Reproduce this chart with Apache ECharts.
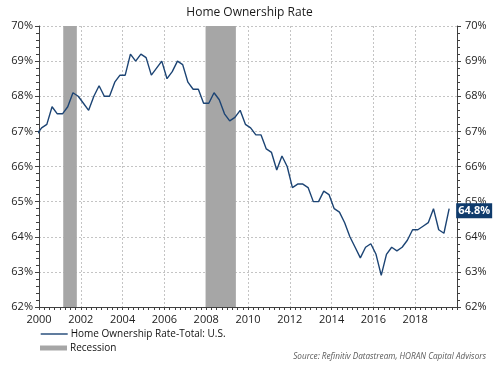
<!DOCTYPE html>
<html><head><meta charset="utf-8">
<script src="https://cdn.jsdelivr.net/npm/echarts@6/dist/echarts.min.js"></script>
<style>html,body{margin:0;padding:0;background:#fff}#c{width:499px;height:371px}</style>
</head><body><div id="c"></div>
<script>
// Quarterly US home ownership rate (%), plotted at mid-quarter
const quarters = [
  '1999Q4',
  '2000Q1','2000Q2','2000Q3','2000Q4',
  '2001Q1','2001Q2','2001Q3','2001Q4',
  '2002Q1','2002Q2','2002Q3','2002Q4',
  '2003Q1','2003Q2','2003Q3','2003Q4',
  '2004Q1','2004Q2','2004Q3','2004Q4',
  '2005Q1','2005Q2','2005Q3','2005Q4',
  '2006Q1','2006Q2','2006Q3','2006Q4',
  '2007Q1','2007Q2','2007Q3','2007Q4',
  '2008Q1','2008Q2','2008Q3','2008Q4',
  '2009Q1','2009Q2','2009Q3','2009Q4',
  '2010Q1','2010Q2','2010Q3','2010Q4',
  '2011Q1','2011Q2','2011Q3','2011Q4',
  '2012Q1','2012Q2','2012Q3','2012Q4',
  '2013Q1','2013Q2','2013Q3','2013Q4',
  '2014Q1','2014Q2','2014Q3','2014Q4',
  '2015Q1','2015Q2','2015Q3','2015Q4',
  '2016Q1','2016Q2','2016Q3','2016Q4',
  '2017Q1','2017Q2','2017Q3','2017Q4',
  '2018Q1','2018Q2','2018Q3','2018Q4',
  '2019Q1','2019Q2','2019Q3'
];
const ownershipRate = [
  66.9,
  67.1, 67.2, 67.7, 67.5,
  67.5, 67.7, 68.1, 68.0,
  67.8, 67.6, 68.0, 68.3,
  68.0, 68.0, 68.4, 68.6,
  68.6, 69.2, 69.0, 69.2,
  69.1, 68.6, 68.8, 69.0,
  68.5, 68.7, 69.0, 68.9,
  68.4, 68.2, 68.2, 67.8,
  67.8, 68.1, 67.9, 67.5,
  67.3, 67.4, 67.6, 67.2,
  67.1, 66.9, 66.9, 66.5,
  66.4, 65.9, 66.3, 66.0,
  65.4, 65.5, 65.5, 65.4,
  65.0, 65.0, 65.3, 65.2,
  64.8, 64.7, 64.4, 64.0,
  63.7, 63.4, 63.7, 63.8,
  63.5, 62.9, 63.5, 63.7,
  63.6, 63.7, 63.9, 64.2,
  64.2, 64.3, 64.4, 64.8,
  64.2, 64.1, 64.8
];
// Recession periods (decimal years)
const recessions = [[2001.16, 2001.81], [2007.97, 2009.42]];
const lineName = 'Home Ownership Rate-Total: U.S.';
const recessionName = 'Recession';
const titleText = 'Home Ownership Rate';
const sourceText = 'Source: Refinitiv Datastream, HORAN Capital Advisors';

function qToYear(q) {
  const y = parseInt(q.slice(0, 4), 10);
  const n = parseInt(q.slice(5), 10);
  return y + (n - 1) / 4 + 0.125;
}
const lineData = quarters.map((q, i) => [qToYear(q), ownershipRate[i]]);
const lastPoint = lineData[lineData.length - 1];

const FONT = '"Open Sans", "DejaVu Sans", sans-serif';
const chart = echarts.init(document.getElementById('c'), null, {renderer: 'canvas'});

const yAxisBase = {
  type: 'value', min: 62, max: 70, interval: 1,
  axisLine: {show: true, lineStyle: {color: '#404040', width: 1}},
  axisTick: {show: true, length: 4, lineStyle: {color: '#404040'}},
  minorTick: {show: true, splitNumber: 5, length: 3, lineStyle: {color: '#404040'}},
  axisLabel: {color: '#222', fontSize: 11, fontFamily: FONT, margin: 6, formatter: v => v + '%'}
};

chart.setOption({
  animation: false,
  backgroundColor: '#fff',
  title: [
    {text: titleText, left: 'center', top: 2,
     textStyle: {fontSize: 12, fontWeight: 'normal', color: '#1a1a1a', fontFamily: FONT}},
    {text: sourceText, right: 8, top: 348,
     textStyle: {fontSize: 8.2, fontWeight: 'normal', fontStyle: 'italic', color: '#595959', fontFamily: FONT}}
  ],
  grid: {left: 39, right: 42, top: 26, bottom: 64, containLabel: false},
  legend: [
    {left: 40, top: 329, padding: 0, orient: 'vertical', selectedMode: false,
     itemWidth: 27, itemHeight: 8,
     itemStyle: {opacity: 0, borderWidth: 0},
     lineStyle: {color: '#1c4474', width: 1.4},
     textStyle: {fontSize: 10, color: '#111', fontFamily: FONT, padding: [0, 0, 0, -2]},
     data: [{name: lineName}]},
    {left: 40, top: 343, padding: 0, orient: 'vertical', selectedMode: false,
     itemWidth: 27, itemHeight: 5,
     textStyle: {fontSize: 10, color: '#111', fontFamily: FONT, padding: [0, 0, 0, -2]},
     data: [{name: recessionName, icon: 'rect'}]}
  ],
  xAxis: {
    type: 'value', min: 2000, max: 2020, interval: 2,
    axisLine: {show: true, onZero: false, lineStyle: {color: '#404040'}},
    axisTick: {show: true, length: 3, lineStyle: {color: '#404040'}},
    minorTick: {show: true, splitNumber: 8, length: 3, lineStyle: {color: '#404040'}},
    splitLine: {show: true, lineStyle: {color: '#c4c4c4', type: [2, 2], width: 1}},
    axisLabel: {color: '#222', fontSize: 11, fontFamily: FONT, margin: 7, showMaxLabel: false,
                formatter: v => String(v)}
  },
  yAxis: [
    Object.assign({}, yAxisBase, {position: 'left',
      splitLine: {show: true, lineStyle: {color: '#c4c4c4', type: [2, 2], width: 1}}}),
    Object.assign({}, yAxisBase, {position: 'right', splitLine: {show: false},
      axisLabel: Object.assign({}, yAxisBase.axisLabel, {margin: 8})})
  ],
  series: [
    {
      name: recessionName, type: 'line', data: [], yAxisIndex: 0,
      itemStyle: {color: '#a6a6a6'}, lineStyle: {color: '#a6a6a6'},
      markArea: {
        silent: true,
        itemStyle: {color: '#a6a6a6', opacity: 1},
        data: recessions.map(r => [{xAxis: r[0]}, {xAxis: r[1]}])
      },
      z: 1
    },
    {
      name: lineName, type: 'line', data: lineData, yAxisIndex: 0,
      symbol: 'none', clip: true,
      itemStyle: {color: '#1c4474'},
      lineStyle: {color: '#1c4474', width: 1.4},
      markPoint: {
        silent: true,
        data: [{coord: lastPoint, value: lastPoint[1]}],
        symbol: 'rect', symbolSize: [36, 15], symbolOffset: [25, 2],
        itemStyle: {color: '#0f3b6c'},
        label: {show: true, color: '#fff', fontWeight: 'bold', fontSize: 11, fontFamily: FONT,
                formatter: p => p.value.toFixed(1) + '%'}
      },
      z: 3
    }
  ]
});
</script>
</body></html>
